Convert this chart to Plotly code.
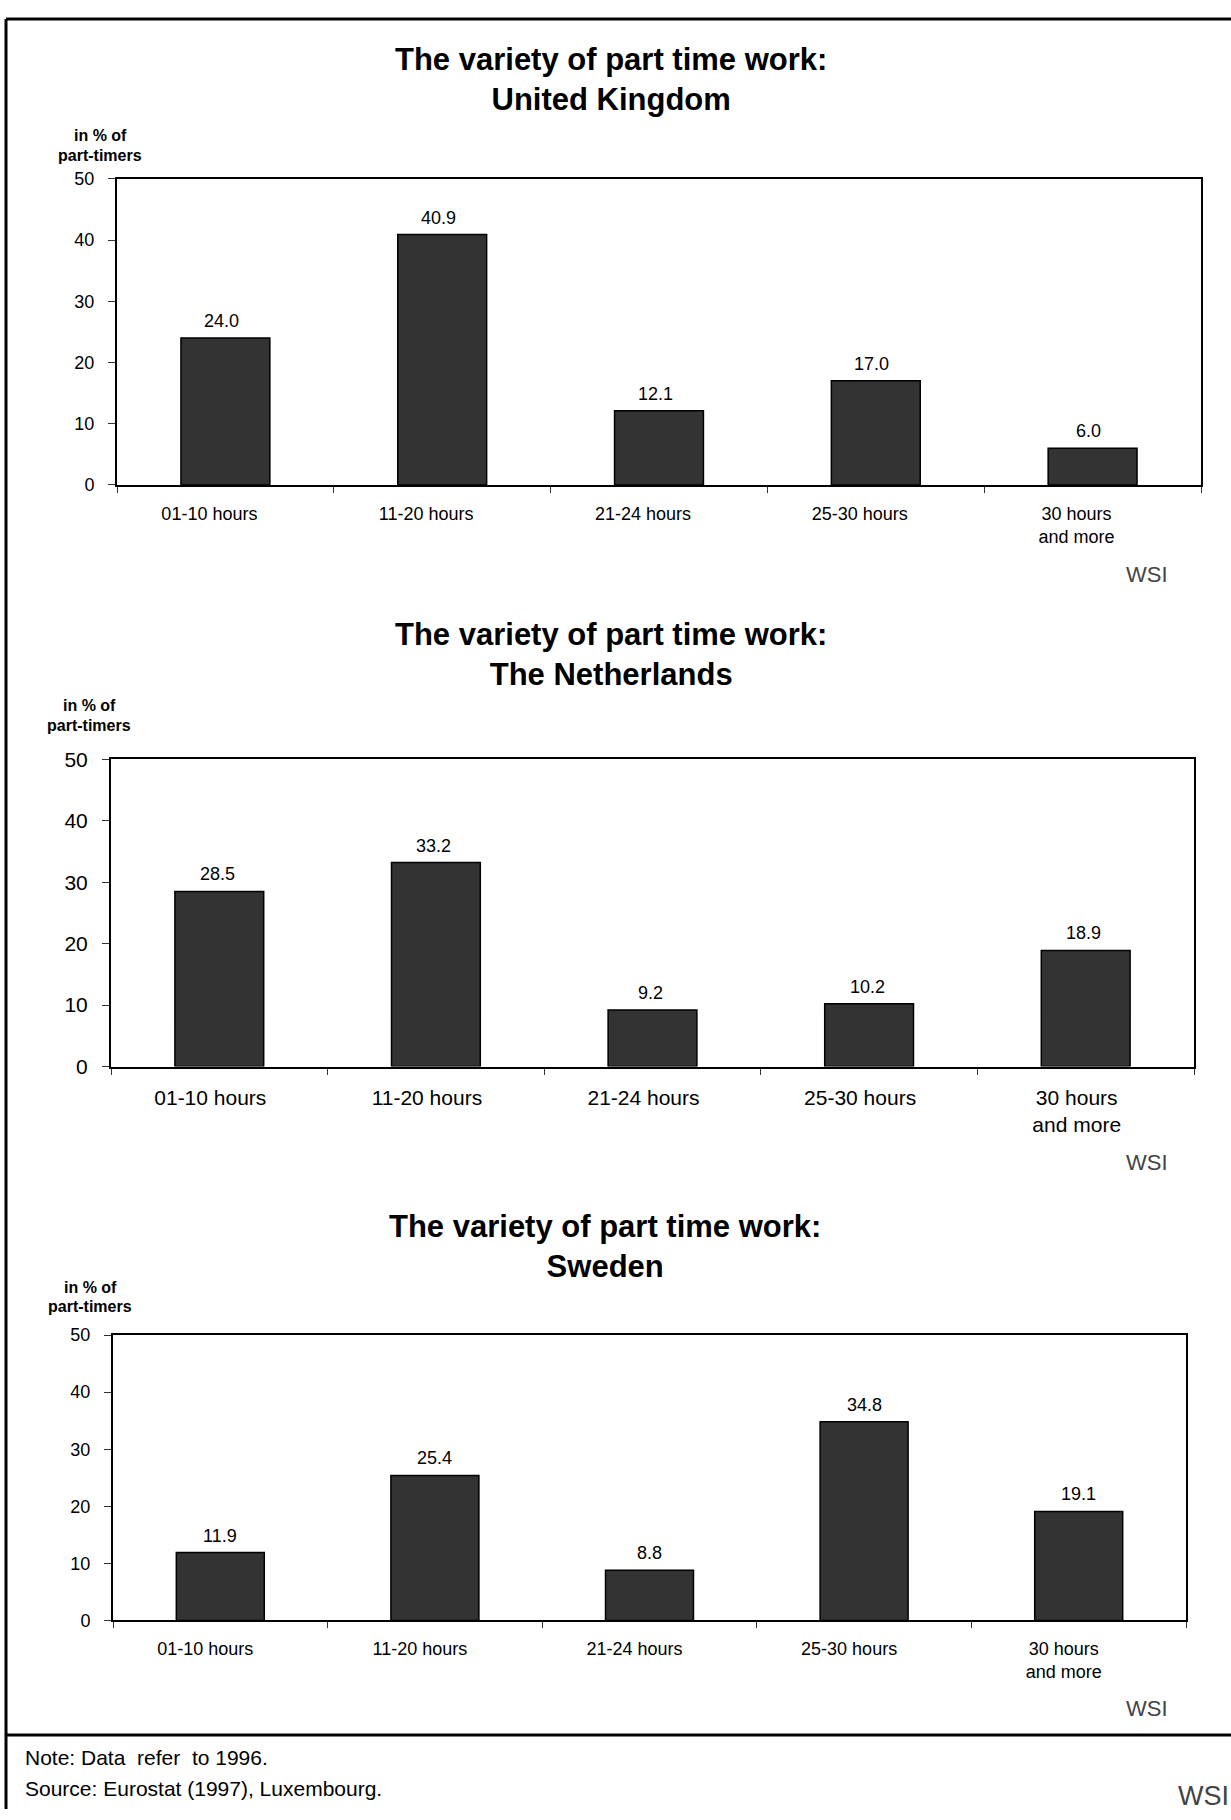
import plotly.graph_objects as go

categories = ["01-10 hours", "11-20 hours", "21-24 hours", "25-30 hours", "30 hours<br>and more"]
uk_values = [24.0, 40.9, 12.1, 17.0, 6.0]
nl_values = [28.5, 33.2, 9.2, 10.2, 18.9]
se_values = [11.9, 25.4, 8.8, 34.8, 19.1]
countries = ["United Kingdom", "The Netherlands", "Sweden"]
title_line1 = "The variety of part time work:"
y_label_lines = ["in % of", "part-timers"]
note_text = "Note: Data\u00a0 refer\u00a0 to 1996."
source_text = "Source: Eurostat (1997), Luxembourg."
y_ticks = [0, 10, 20, 30, 40, 50]

W, H = 1231, 1820
FONT = "Liberation Sans, Arial, Helvetica, sans-serif"

def px(x):
    return x / W

def py(y):
    return 1 - y / H

# panel geometry in pixels: (left, right, top, bottom)
panels = [
    dict(box=(117, 1201, 169, 479), tick=18, shift=-16, vshift=-4, tx=611, ty=68, lab=(100, 125, 145), wsi=570),
    dict(box=(111, 1194, 757, 1068), tick=21, shift=-9, vshift=-2, tx=611, ty=651, lab=(89, 702, 723), wsi=1165),
    dict(box=(113, 1186, 1340, 1629), tick=18, shift=-15, vshift=0, tx=605, ty=1250, lab=(90, 1292, 1311), wsi=1718),
]
series = [uk_values, nl_values, se_values]

fig = go.Figure()
annotations = []
layout_axes = {}
for i, (p, vals, country) in enumerate(zip(panels, series, countries)):
    n = "" if i == 0 else str(i + 1)
    xa, ya = "x" + n, "y" + n
    fig.add_trace(go.Bar(
        x=categories, y=vals, xaxis=xa, yaxis=ya,
        marker=dict(color="#333333", line=dict(color="black", width=1.5)),
        hoverinfo="skip", showlegend=False,
    ))
    # value labels above bars, placed through the data axes
    for c, v in zip(categories, vals):
        annotations.append(dict(
            text="%.1f" % v, x=c, y=v, xref=xa, yref=ya,
            xanchor="center", yanchor="middle", yshift=17, xshift=p["vshift"], showarrow=False,
            font=dict(size=18, color="black", family=FONT)))
    l, r, t, b = p["box"]
    layout_axes["xaxis" + n] = dict(
        domain=[px(l), px(r)], anchor=ya, type="category",
        showline=True, mirror=True, linecolor="black", linewidth=2,
        ticks="outside", tickson="boundaries", ticklen=6, tickcolor="#333",
        ticklabelstandoff=11, ticklabelshift=p["shift"],
        tickfont=dict(size=p["tick"], color="black", family=FONT),
        showgrid=False, zeroline=False, fixedrange=True,
    )
    layout_axes["yaxis" + n] = dict(
        domain=[py(b), py(t)], anchor=xa, range=[0, 50], tickvals=y_ticks,
        showline=True, mirror=True, linecolor="black", linewidth=2,
        ticks="outside", ticklen=7, tickcolor="#333", ticklabelstandoff=10,
        tickfont=dict(size=p["tick"], color="black", family=FONT),
        showgrid=False, zeroline=False, fixedrange=True,
    )
    # two-line title
    annotations.append(dict(
        text="<b>%s</b><br><b>%s</b>" % (title_line1, country),
        x=px(p["tx"]), y=py(p["ty"]), xref="paper", yref="paper",
        xanchor="center", yanchor="middle", showarrow=False,
        font=dict(size=31, color="black", family=FONT)))
    lx, ly1, ly2 = p["lab"]
    for txt, yy in zip(y_label_lines, (ly1, ly2)):
        annotations.append(dict(
            text="<b>%s</b>" % txt, x=px(lx), y=py(yy), xref="paper", yref="paper",
            xanchor="center", yanchor="middle", showarrow=False,
            font=dict(size=16, color="black", family=FONT)))
    annotations.append(dict(
        text="WSI", x=px(1147), y=py(p["wsi"]), xref="paper", yref="paper",
        xanchor="center", yanchor="middle", showarrow=False,
        font=dict(size=22, color="#444444", family=FONT)))

annotations += [
    dict(text=note_text, x=px(23), y=py(1768), xref="paper", yref="paper",
         xanchor="left", yanchor="middle", showarrow=False,
         font=dict(size=21, color="black", family=FONT)),
    dict(text=source_text, x=px(23), y=py(1799), xref="paper", yref="paper",
         xanchor="left", yanchor="middle", showarrow=False,
         font=dict(size=21, color="black", family=FONT)),
    dict(text="WSI", x=px(1203), y=py(1807), xref="paper", yref="paper",
         xanchor="center", yanchor="middle", showarrow=False,
         font=dict(size=27, color="#444444", family=FONT)),
]

shapes = [
    dict(type="line", xref="paper", yref="paper", x0=px(6), x1=1, y0=py(7), y1=py(7),
         line=dict(color="black", width=3)),
    dict(type="line", xref="paper", yref="paper", x0=px(6), x1=px(6), y0=py(7), y1=0,
         line=dict(color="black", width=3)),
    dict(type="line", xref="paper", yref="paper", x0=px(6), x1=1, y0=py(1745), y1=py(1745),
         line=dict(color="black", width=3)),
]

fig.update_layout(
    width=W, height=H, margin=dict(l=0, r=0, t=0, b=0),
    paper_bgcolor="white", plot_bgcolor="white",
    bargap=0.59, showlegend=False,
    font=dict(family=FONT, color="black"),
    annotations=annotations, shapes=shapes,
    **layout_axes,
)

fig.write_html("out.html")
